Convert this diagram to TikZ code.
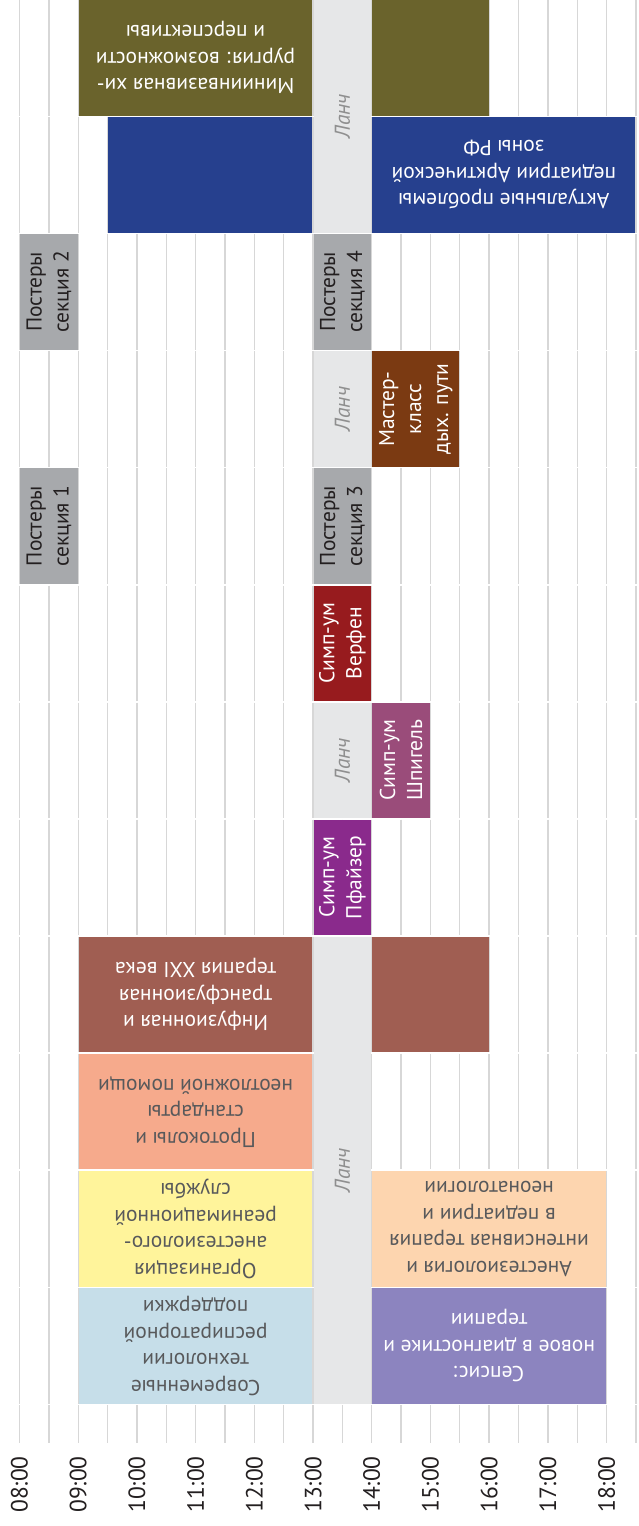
\documentclass[tikz,border=0pt]{standalone}
\usepackage{fontspec}
\setmainfont{PT Sans}
\definecolor{cOlive}{HTML}{6A632C}
\definecolor{cNavy}{HTML}{26408E}
\definecolor{cPoster}{HTML}{A7A9AC}
\definecolor{cLunch}{HTML}{E6E7E8}
\definecolor{cMaster}{HTML}{7B3A12}
\definecolor{cVerfen}{HTML}{971B1E}
\definecolor{cShpigel}{HTML}{9A4C7A}
\definecolor{cPfizer}{HTML}{8A2A8C}
\definecolor{cInfuz}{HTML}{A05E52}
\definecolor{cProtok}{HTML}{F6AA8C}
\definecolor{cOrg}{HTML}{FFF49B}
\definecolor{cAnest}{HTML}{FDD5AF}
\definecolor{cSovr}{HTML}{C6DEE9}
\definecolor{cSepsis}{HTML}{8C84BF}
\definecolor{cGrid}{HTML}{D7D7D7}
\definecolor{cDark}{HTML}{58595B}
\definecolor{cLunchText}{HTML}{8F8F8F}
\definecolor{cBlack}{HTML}{231F20}
% #1 name, #2 start hour, #3 end hour, #4 first row, #5 last row, #6 colour
\newcommand\slot[6]{%
  \path[fill=#6] ({19.5+58.705*(#2-8)+0.6},{117.1*#4}) rectangle ({19.5+58.705*(#3-8)-0.6},{117.1*#5+115.5});
  \coordinate (#1) at ({19.5+58.705*((#2+#3)/2-8)},{(117.1*#4+117.1*#5+115.5)/2});
}
\begin{document}
\begin{tikzpicture}[x=1pt,y=-1pt,
  grid/.style={draw=cGrid,line width=1.4pt},
  bigtext/.style={align=center,rotate=180,font=\fontsize{21.5}{26.5}\selectfont,inner sep=0pt},
  smalltext/.style={align=center,rotate=90,font=\fontsize{21.5}{27}\selectfont,inner sep=0pt},
  lunchtext/.style={rotate=90,font=\fontsize{21.5}{27}\selectfont\itshape,text=cLunchText,inner sep=0pt},
  timelabel/.style={rotate=90,font=\fontsize{23.5}{28}\selectfont,text=cBlack,inner sep=0pt}]
\useasboundingbox[fill=white] (0,0) rectangle (638,1526);
% grid lines, one piece per row
\foreach \r in {0,...,11}{
  \foreach \k in {0,...,21}{
    \draw[grid] ({19.5+29.3525*\k},{117.1*\r}) -- ({19.5+29.3525*\k},{117.1*\r+115.5});
  }
}
\foreach \k in {0,...,21}{
  \draw[grid] ({19.5+29.3525*\k},1405) -- ({19.5+29.3525*\k},1443);
}
% time labels
\foreach \h/\t in {8/08:00,9/09:00,10/10:00,11/11:00,12/12:00,13/13:00,14/14:00,15/15:00,16/16:00,17/17:00,18/18:00}{
  \node[timelabel] (t\h) at ({19.5+58.705*(\h-8)},1484.5) {\t};
}
% rows 1-2
\slot{mini}{9}{13}{0}{0}{cOlive}
\node[bigtext,text=white] (miniT) at (mini) {Миниинвазивная хи-\\рургия: возможности\\и перспективы};
\slot{mini2}{14}{16}{0}{0}{cOlive}
\slot{arkt}{9.5}{13}{1}{1}{cNavy}
\slot{arkt2}{14}{18.5}{1}{1}{cNavy}
\node[bigtext,text=white] (arktT) at (arkt2) {Актуальные проблемы\\педиатрии Арктической\\зоны РФ};
\slot{lunchA}{13}{14}{0}{1}{cLunch}
\node[lunchtext] (lunchAT) at (lunchA) {Ланч};
% row 3
\slot{post2}{8}{9}{2}{2}{cPoster}
\node[smalltext,text=cBlack] (post2T) at (post2) {Постеры\\секция 2};
\slot{post4}{13}{14}{2}{2}{cPoster}
\node[smalltext,text=cBlack] (post4T) at (post4) {Постеры\\секция 4};
% row 4
\slot{lunchB}{13}{14}{3}{3}{cLunch}
\node[lunchtext] (lunchBT) at (lunchB) {Ланч};
\slot{master}{14}{15.5}{3}{3}{cMaster}
\node[smalltext,text=white] (masterT) at (master) {Мастер-\\класс\\дых. пути};
% row 5
\slot{post1}{8}{9}{4}{4}{cPoster}
\node[smalltext,text=cBlack] (post1T) at (post1) {Постеры\\секция 1};
\slot{post3}{13}{14}{4}{4}{cPoster}
\node[smalltext,text=cBlack] (post3T) at (post3) {Постеры\\секция 3};
% row 6
\slot{verf}{13}{14}{5}{5}{cVerfen}
\node[smalltext,text=white] (verfT) at (verf) {Симп-ум\\Верфен};
% row 7
\slot{lunchC}{13}{14}{6}{6}{cLunch}
\node[lunchtext] (lunchCT) at (lunchC) {Ланч};
\slot{shp}{14}{15}{6}{6}{cShpigel}
\node[smalltext,text=white] (shpT) at (shp) {Симп-ум\\Шпигель};
% row 8
\slot{pfz}{13}{14}{7}{7}{cPfizer}
\node[smalltext,text=white] (pfzT) at (pfz) {Симп-ум\\Пфайзер};
% rows 9-12
\slot{inf}{9}{13}{8}{8}{cInfuz}
\node[bigtext,text=white] (infT) at (inf) {Инфузионная и\\трансфузионная\\терапия XXI века};
\slot{inf2}{14}{16}{8}{8}{cInfuz}
\slot{lunchD}{13}{14}{8}{11}{cLunch}
\node[lunchtext] (lunchDT) at (lunchD) {Ланч};
\slot{prot}{9}{13}{9}{9}{cProtok}
\node[bigtext,text=cDark] (protT) at (prot) {Протоколы и\\стандарты\\неотложной помощи};
\slot{org}{9}{13}{10}{10}{cOrg}
\node[bigtext,text=cDark] (orgT) at (org) {Организация\\анестезиолого-\\реанимационной\\службы};
\slot{anest}{14}{18}{10}{10}{cAnest}
\node[bigtext,text=cDark] (anestT) at (anest) {Анестезиология и\\интенсивная терапия\\в педиатрии и\\неонатологии};
\slot{sovr}{9}{13}{11}{11}{cSovr}
\node[bigtext,text=cDark] (sovrT) at (sovr) {Современные\\технологии\\респираторной\\поддержки};
\slot{seps}{14}{18}{11}{11}{cSepsis}
\node[bigtext,text=white] (sepsT) at (seps) {Сепсис:\\новое в диагностике и\\терапии};
\end{tikzpicture}
\end{document}
